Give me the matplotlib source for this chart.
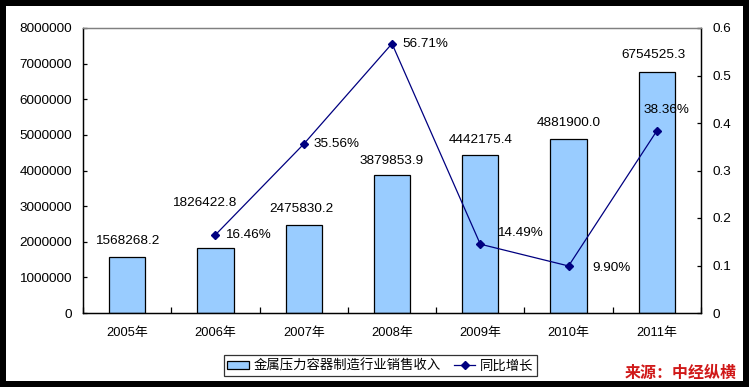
import matplotlib.pyplot as plt
from matplotlib.patches import Rectangle, Patch
from matplotlib.lines import Line2D
from matplotlib.ticker import FixedLocator, FuncFormatter

years = ["2005年", "2006年", "2007年", "2008年", "2009年", "2010年", "2011年"]
sales = [1568268.2, 1826422.8, 2475830.2, 3879853.9, 4442175.4, 4881900.0, 6754525.3]
growth_years = ["2006年", "2007年", "2008年", "2009年", "2010年", "2011年"]
growth = [0.1646, 0.3556, 0.5671, 0.1449, 0.0990, 0.3836]
growth_labels = ["16.46%", "35.56%", "56.71%", "14.49%", "9.90%", "38.36%"]

bar_name = "金属压力容器制造行业销售收入"
line_name = "同比增长"
source = "来源：中经纵横"

num_font = ["Liberation Sans", "Noto Sans CJK SC"]
cjk_font = ["Noto Sans CJK SC", "DejaVu Sans"]
fs = 9.7

# label nudges, in pixels
bar_off = [(0, 16), (-11, 45), (-2, 16), (0, 14), (0, 15), (0, 16), (-3, 17)]
pct_off = [(10, 0), (10, 0), (10, 0), (17, 11), (24, -2), (-13, 21)]

fig = plt.figure(figsize=(7.49, 3.87), dpi=100, facecolor="black")
fig.patches.append(Rectangle((6 / 749, 6 / 387), 737 / 749, 375 / 387,
                             transform=fig.transFigure, facecolor="white",
                             edgecolor="none", zorder=-10))

ax = fig.add_axes([83 / 749, 74 / 387, 618 / 749, 285 / 387])
ax.set_facecolor("white")
x = list(range(len(years)))
bars = ax.bar(x, sales, width=0.41, color="#99ccff", edgecolor="black", linewidth=0.9)
ax.set_xlim(-0.5, len(years) - 0.5)
ax.set_ylim(0, 8000000)
ax.set_yticks(range(0, 8000001, 1000000))
ax.yaxis.set_major_formatter(FuncFormatter(lambda v, p: "%d" % v))

ax.set_xticks(x)
ax.set_xticklabels(years, family=num_font, fontsize=fs - 0.4)
ax.xaxis.set_minor_locator(FixedLocator([i + 0.5 for i in range(-1, len(years))]))
ax.tick_params(axis="x", which="major", length=0, pad=10)
ax.tick_params(axis="x", which="minor", direction="in", length=4, width=0.9)
ax.tick_params(axis="y", direction="in", length=3, width=0.9, pad=8, labelsize=fs)
for lab in ax.get_yticklabels():
    lab.set_family(num_font)

for s in ["left", "bottom", "right"]:
    ax.spines[s].set_color("black")
    ax.spines[s].set_linewidth(0.9)
ax.spines["top"].set_color("#808080")
ax.spines["top"].set_linewidth(0.9)

for i, b in enumerate(bars):
    dx, dy = bar_off[i]
    ax.annotate("%.1f" % sales[i], (b.get_x() + b.get_width() / 2, sales[i]),
                xytext=(dx, dy), textcoords="offset pixels", ha="center", va="center",
                fontsize=fs, family=num_font)

ax2 = ax.twinx()
gx = [years.index(y) for y in growth_years]
ax2.plot(gx, growth, color="#000080", linewidth=0.9, marker="D", markersize=4,
         markerfacecolor="#000080", markeredgecolor="#000080")
ax2.set_ylim(0, 0.6)
ax2.set_yticks([0, 0.1, 0.2, 0.3, 0.4, 0.5, 0.6])
ax2.yaxis.set_major_formatter(FuncFormatter(lambda v, p: "0" if v == 0 else "%.1f" % v))
ax2.tick_params(axis="y", direction="in", length=3, width=0.9, pad=8, labelsize=fs)
for lab in ax2.get_yticklabels():
    lab.set_family(num_font)
for s in ["left", "bottom", "right"]:
    ax2.spines[s].set_color("black")
    ax2.spines[s].set_linewidth(0.9)
ax2.spines["top"].set_color("#808080")
ax2.spines["top"].set_linewidth(0.9)

for i in range(len(growth)):
    dx, dy = pct_off[i]
    ax2.annotate(growth_labels[i], (gx[i], growth[i]), xytext=(dx, dy),
                 textcoords="offset pixels", ha="left", va="center",
                 fontsize=fs, family=num_font)

handles = [Patch(facecolor="#99ccff", edgecolor="black", linewidth=0.9),
           Line2D([], [], color="#000080", linewidth=0.9, marker="D", markersize=4)]
leg = fig.legend(handles, [bar_name, line_name], loc="center",
                 bbox_to_anchor=(380.5 / 749, 21.5 / 387), ncol=2,
                 prop={"family": cjk_font, "size": 9.6}, frameon=True,
                 fancybox=False, shadow=False, handlelength=1.6, handleheight=0.5,
                 handletextpad=0.35, columnspacing=1.0, borderpad=0.25,
                 borderaxespad=0)
leg.get_frame().set_edgecolor("black")
leg.get_frame().set_linewidth(0.9)

fig.text(737 / 749, 14 / 387, source, ha="right", va="center", color="#d01818",
         fontsize=11.5, fontweight="bold", family=cjk_font)

fig.savefig("out.png", dpi=100, facecolor="black")
